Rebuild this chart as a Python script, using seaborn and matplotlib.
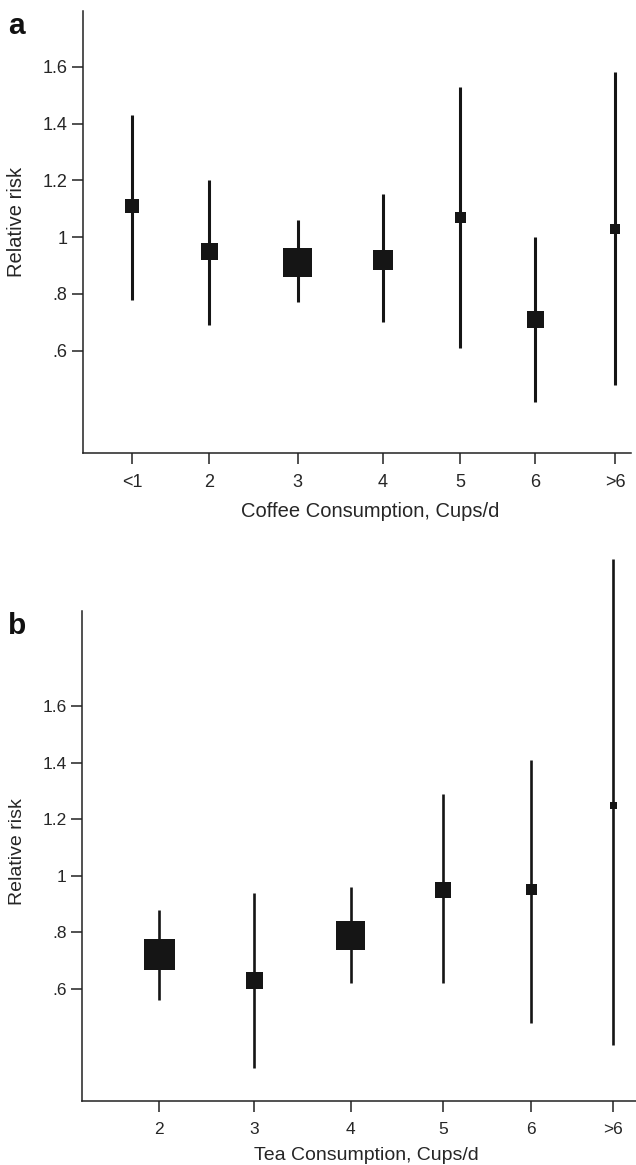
import numpy as np
import pandas as pd
import seaborn as sns
from matplotlib import pyplot as plt

# panel a - coffee
coffee_labels = ["<1", "2", "3", "4", "5", "6", ">6"]
coffee_pos = [0.60, 1.54, 2.62, 3.66, 4.60, 5.52, 6.49]
coffee_rr = [1.11, 0.95, 0.91, 0.92, 1.07, 0.71, 1.03]
coffee_lo = [0.78, 0.69, 0.77, 0.70, 0.61, 0.42, 0.48]
coffee_hi = [1.43, 1.20, 1.06, 1.15, 1.53, 1.00, 1.58]
coffee_wt = [8.8, 12.9, 37.6, 17.9, 5.4, 12.9, 4.5]

# panel b - tea
tea_labels = ["2", "3", "4", "5", "6", ">6"]
tea_pos = [0.94, 2.10, 3.28, 4.41, 5.48, 6.48]
tea_rr = [0.72, 0.63, 0.79, 0.95, 0.95, 1.25]
tea_lo = [0.56, 0.32, 0.62, 0.62, 0.48, 0.40]
tea_hi = [0.88, 0.94, 0.96, 1.29, 1.41, 2.12]
tea_wt = [38.2, 11.5, 33.4, 10.2, 4.8, 1.9]

ytick_vals = [0.6, 0.8, 1.0, 1.2, 1.4, 1.6]
ytick_labels = [".6", ".8", "1", "1.2", "1.4", "1.6"]

sns.set_theme(style="ticks")
plt.rcParams['font.family'] = ['Liberation Sans', 'DejaVu Sans']

ink = "#151515"
fig = plt.figure(figsize=(6.36, 11.65), dpi=100)
ax_a = fig.add_axes([0.130, 0.6114, 0.8616, 0.3791])
ax_b = fig.add_axes([0.129, 0.0549, 0.871, 0.4209])


def forest(ax, pos, rr, lo, hi, wt, labels, xlim, ylim, area100, lw, fs, xlabel, xlab_xy, ylab_xy):
    df = pd.DataFrame({"pos": pos, "rr": rr, "lo": lo, "hi": hi, "wt": wt})
    ax.vlines(df["pos"], df["lo"], df["hi"], color=ink, lw=lw, zorder=2, clip_on=False)
    sns.scatterplot(data=df, x="pos", y="rr", size="wt", sizes=(0, area100), size_norm=(0, 100),
                    marker="s", color=ink, linewidth=0, legend=False, ax=ax, zorder=3, clip_on=False)
    ax.set_xlim(*xlim)
    ax.set_ylim(*ylim)
    ax.set_xticks(pos)
    ax.set_xticklabels(labels, fontsize=fs)
    ax.set_yticks(ytick_vals)
    ax.set_yticklabels(ytick_labels, fontsize=fs)
    ax.tick_params(axis="both", length=8, width=1.1, color="#222222")
    ax.tick_params(axis="x", pad=7)
    ax.tick_params(axis="y", pad=3)
    sns.despine(ax=ax)
    for s in ["left", "bottom"]:
        ax.spines[s].set_linewidth(1.1)
        ax.spines[s].set_color("#222222")
    ax.set_xlabel(xlabel, fontsize=fs + 1.5, va="center")
    ax.xaxis.set_label_coords(*xlab_xy)
    ax.set_ylabel("Relative risk", fontsize=fs + 1.5, va="center")
    ax.yaxis.set_label_coords(*ylab_xy)


forest(ax_a, coffee_pos, coffee_rr, coffee_lo, coffee_hi, coffee_wt, coffee_labels,
       (0, 6.68), (0.2405, 1.796), 1160, 2.2, 13, "Coffee Consumption, Cups/d",
       (0.524, -0.134), (-0.12, 0.522))
forest(ax_b, tea_pos, tea_rr, tea_lo, tea_hi, tea_wt, tea_labels,
       (0, 6.76), (0.2025, 1.938), 1300, 1.9, 12.5, "Tea Consumption, Cups/d",
       (0.513, -0.112), (-0.117, 0.508))

fig.text(8 / 636, 1 - 34 / 1165, "a", fontsize=21.5, fontweight="bold", va="baseline", color="#111111")
fig.text(8 / 636, 1 - 634 / 1165, "b", fontsize=21.5, fontweight="bold", va="baseline", color="#111111")

fig.savefig("out.png", dpi=100)
